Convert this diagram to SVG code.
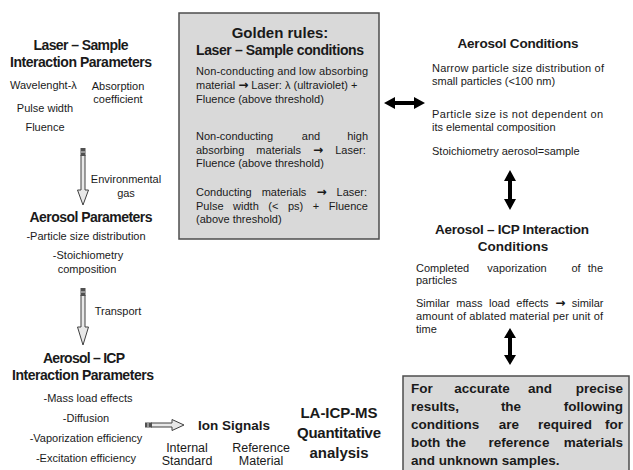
<svg xmlns="http://www.w3.org/2000/svg" width="633" height="470" viewBox="0 0 633 470">
<style>
text{font-family:"Liberation Sans",Arial,sans-serif;fill:#1a1a1a}
.b{font-weight:bold}
.r{font-size:11px}
.m{text-anchor:middle}
.e{text-anchor:end}
.a{font-family:"DejaVu Sans",sans-serif;font-weight:bold;font-size:12px}
.q{font-size:13.5px;font-weight:bold}
.box{fill:#d9d9d9;stroke:#4d4d4d;stroke-width:1.5}
.hollow{fill:#e8e8e8;stroke:#404040;stroke-width:1}
.cap{fill:#505050}
.dbl{fill:#000}
</style>
<rect width="633" height="470" fill="#fff"/>

<g id="laser-sample-params">
<text class="b m" x="81" y="50" font-size="14" textLength="95">Laser – Sample</text>
<text class="b m" x="81" y="67" font-size="14" textLength="142">Interaction Parameters</text>
<text class="r" x="10" y="89" font-size="11.5">Wavelenght-λ</text>
<text class="r m" x="118" y="90">Absorption</text>
<text class="r m" x="118" y="103">coefficient</text>
<text class="r m" x="45" y="112">Pulse width</text>
<text class="r m" x="45" y="131">Fluence</text>
</g>

<g id="aerosol-params">
<text class="b m" x="91" y="222" font-size="14" textLength="123">Aerosol Parameters</text>
<text class="r m" x="86" y="240">-Particle size distribution</text>
<text class="r m" x="88" y="259">-Stoichiometry</text>
<text class="r m" x="87" y="273">composition</text>
</g>

<g id="aerosol-icp-params">
<text class="b m" x="84" y="363" font-size="14" textLength="82">Aerosol – ICP</text>
<text class="b m" x="83" y="380" font-size="14" textLength="142">Interaction Parameters</text>
<text class="r m" x="88" y="402">-Mass load effects</text>
<text class="r m" x="86" y="422">-Diffusion</text>
<text class="r m" x="86" y="442">-Vaporization efficiency</text>
<text class="r m" x="86" y="462">-Excitation efficiency</text>
</g>

<g id="ion-signals">
<text class="b m" x="234" y="430" font-size="13.5">Ion Signals</text>
<text class="m" x="187" y="452" font-size="12.5">Internal</text>
<text class="m" x="187" y="465" font-size="12.5">Standard</text>
<text class="m" x="261" y="452" font-size="12.5">Reference</text>
<text class="m" x="261" y="465" font-size="12.5">Material</text>
</g>

<g id="la-icp-ms">
<text class="b m" x="339" y="418" font-size="15" textLength="77">LA-ICP-MS</text>
<text class="b m" x="339" y="438" font-size="15" textLength="84">Quantitative</text>
<text class="b m" x="339" y="458" font-size="15">analysis</text>
</g>

<g id="golden-rules">
<rect class="box" x="179" y="13" width="200" height="226"/>
<text class="b m" x="280" y="38" font-size="15">Golden rules:</text>
<text class="b m" x="280" y="55" font-size="14" textLength="168">Laser – Sample conditions</text>
<text class="r" x="196" y="75" textLength="172">Non-conducting and low absorbing</text>
<text class="r" x="196" y="89">material <tspan class="a">→</tspan> Laser: λ (ultraviolet) +</text>
<text class="r" x="196" y="103">Fluence (above threshold)</text>
<text class="r" x="196" y="140">Non-conducting</text>
<text class="r m" x="311" y="140">and</text>
<text class="r e" x="368" y="140">high</text>
<text class="r" x="196" y="154" word-spacing="9">absorbing materials <tspan class="a">→</tspan> Laser:</text>
<text class="r" x="196" y="167">Fluence (above threshold)</text>
<text class="r" x="196" y="196" word-spacing="7">Conducting materials <tspan class="a">→</tspan> Laser:</text>
<text class="r" x="196" y="210" word-spacing="6.5">Pulse width (&lt; ps) + Fluence</text>
<text class="r" x="196" y="223">(above threshold)</text>
</g>

<g id="aerosol-conditions">
<text class="b m" x="518" y="48" font-size="13.5" textLength="121">Aerosol Conditions</text>
<text class="r" x="432" y="72" textLength="172">Narrow particle size distribution of</text>
<text class="r" x="432" y="85">small particles (&lt;100 nm)</text>
<text class="r" x="432" y="118" textLength="171">Particle size is not dependent on</text>
<text class="r" x="432" y="131">its elemental composition</text>
<text class="r" x="432" y="155">Stoichiometry aerosol=sample</text>
</g>

<g id="aerosol-icp-conditions">
<text class="b m" x="512" y="234" font-size="13.5" textLength="154">Aerosol – ICP Interaction</text>
<text class="b m" x="513" y="251" font-size="13.5">Conditions</text>
<text class="r" x="416" y="272">Completed</text>
<text class="r m" x="517" y="272">vaporization</text>
<text class="r m" x="576" y="272">of</text>
<text class="r e" x="603" y="272">the</text>
<text class="r" x="416" y="284">particles</text>
<text class="r" x="416" y="307" word-spacing="3.5">Similar mass load effects <tspan class="a">→</tspan> similar</text>
<text class="r" x="416" y="320" textLength="187">amount of ablated material per unit of</text>
<text class="r" x="416" y="333">time</text>
</g>

<g id="requirements">
<rect class="box" x="403" y="376" width="226" height="100"/>
<text class="q" x="411" y="393">For</text>
<text class="q m" x="482" y="393">accurate</text>
<text class="q m" x="540" y="393">and</text>
<text class="q e" x="623" y="393">precise</text>
<text class="q" x="411" y="411">results,</text>
<text class="q m" x="511" y="411">the</text>
<text class="q e" x="623" y="411">following</text>
<text class="q" x="411" y="429">conditions</text>
<text class="q m" x="509" y="429">are</text>
<text class="q m" x="565" y="429">required</text>
<text class="q e" x="623" y="429">for</text>
<text class="q" x="411" y="447">both</text>
<text class="q m" x="456" y="447">the</text>
<text class="q m" x="519" y="447">reference</text>
<text class="q e" x="623" y="447">materials</text>
<text class="q" x="411" y="465">and unknown samples.</text>
</g>

<g id="connectors">
<g id="arrow-env-gas">
<polygon class="hollow" points="81,155 85,155 85,190 88.5,190 83,205 77.5,190 81,190"/>
<rect class="cap" x="80.5" y="148" width="5" height="8"/>
<line x1="81" y1="152" x2="85" y2="152" stroke="#ddd" stroke-width="1"/>
<text class="r m" x="126" y="183">Environmental</text>
<text class="r m" x="126" y="197">gas</text>
</g>
<g id="arrow-transport">
<polygon class="hollow" points="81,295 85,295 85,327 88.5,327 83,345 77.5,327 81,327"/>
<rect class="cap" x="80.5" y="288" width="5" height="8"/>
<line x1="81" y1="292" x2="85" y2="292" stroke="#ddd" stroke-width="1"/>
<text class="r m" x="118" y="315">Transport</text>
</g>
<g id="arrow-ion">
<polygon class="hollow" points="151,423 172,423 172,419.5 184,425 172,430.5 172,427 151,427"/>
<rect class="cap" x="145" y="422.5" width="7" height="5"/>
<line x1="148" y1="423" x2="148" y2="427" stroke="#ddd" stroke-width="1"/>
</g>
<polygon class="dbl" points="384,103 395,97 395,101 414,101 414,97 425,103 414,109 414,105 395,105 395,109"/>
<polygon class="dbl" points="510,170 504,181 508,181 508,199 504,199 510,210 516,199 512,199 512,181 516,181"/>
<polygon class="dbl" points="510,328 504,338 508,338 508,355 504,355 510,365 516,355 512,355 512,338 516,338"/>
</g>
</svg>
